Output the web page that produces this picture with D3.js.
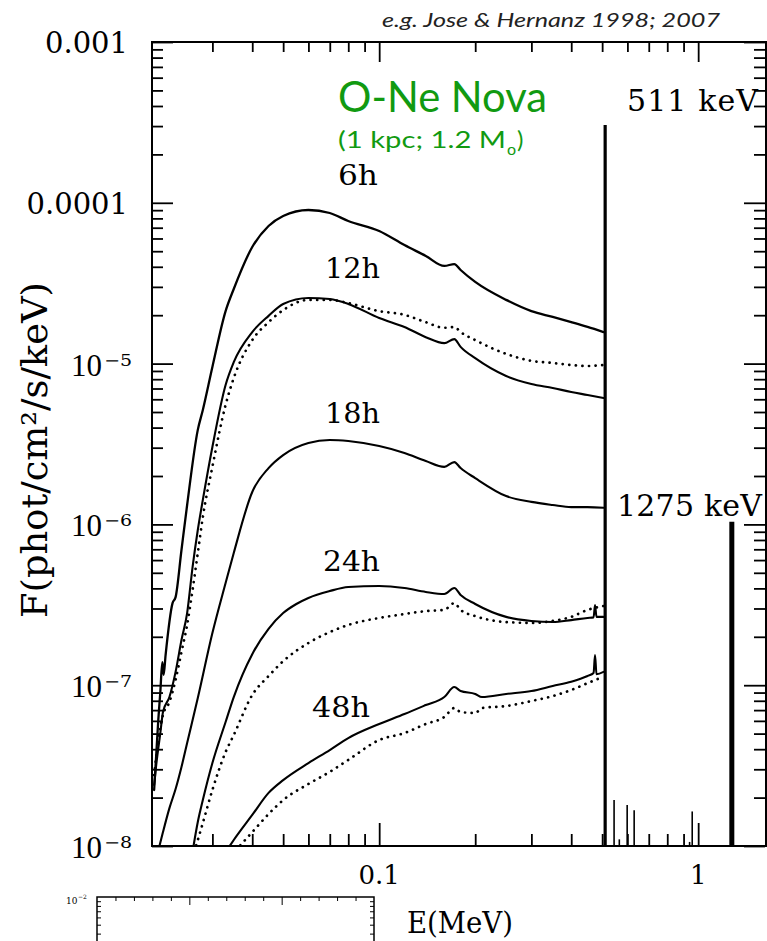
<!DOCTYPE html>
<html lang="en">
<head>
<meta charset="UTF-8">
<script src="https://d3js.org/d3.v7.min.js"></script>
<style>
  body { margin: 0; background: #fff; }
  svg { display: block; }
  .serif { font-family: "DejaVu Serif", "Liberation Serif", serif; fill: #000; }
  .times { font-family: "Liberation Serif", "DejaVu Serif", serif; fill: #000; }
  .green { font-family: Lato, "Open Sans", sans-serif; fill: #119a11; }
</style>
</head>
<body>
<svg id="chart" width="767" height="941"></svg>
<script>
// ---- data: [energy MeV, flux phot/cm2/s/keV] ----
const h6Solid = [[0.0197,2.23e-8],[0.0200,3.68e-8],[0.0203,6.07e-8],[0.0206,9.07e-8],[0.0209,1.39e-7],[0.0211,1.16e-7],
  [0.0214,1.54e-7],[0.0225,3.24e-7],[0.0230,3.53e-7],[0.0240,6.93e-7],[0.0250,1.32e-6],[0.0270,3.87e-6],[0.0280,5.15e-6],
  [0.030,9.53e-6],[0.033,2.12e-5],[0.035,2.91e-5],[0.040,5.31e-5],[0.045,7.17e-5],[0.050,8.28e-5],[0.060,9.02e-5],
  [0.070,8.64e-5],[0.080,7.71e-5],[0.100,6.68e-5],[0.120,5.46e-5],[0.140,4.67e-5],[0.160,4.05e-5],[0.172,4.16e-5],
  [0.180,3.82e-5],[0.200,3.22e-5],[0.250,2.49e-5],[0.300,2.12e-5],[0.350,1.95e-5],[0.400,1.81e-5],[0.450,1.69e-5],[0.505,1.57e-5]];
const h12Solid = [[0.0197,2.40e-8],[0.0200,3.19e-8],[0.0206,5.04e-8],[0.0210,6.81e-8],[0.0220,8.44e-8],[0.0230,1.21e-7],
  [0.0240,1.91e-7],[0.0250,2.81e-7],[0.0260,5.43e-7],[0.0270,9.23e-7],[0.0280,1.42e-6],[0.030,3.03e-6],[0.033,7.36e-6],
  [0.035,1.02e-5],[0.040,1.57e-5],[0.045,1.98e-5],[0.050,2.35e-5],[0.060,2.56e-5],[0.070,2.52e-5],[0.080,2.35e-5],
  [0.100,1.92e-5],[0.120,1.69e-5],[0.140,1.46e-5],[0.160,1.34e-5],[0.172,1.42e-5],[0.180,1.27e-5],[0.200,1.08e-5],
  [0.250,8.37e-6],[0.300,7.47e-6],[0.350,7.05e-6],[0.400,6.66e-6],[0.450,6.38e-6],[0.505,6.11e-6]];
const h12Dotted = [[0.0197,2.76e-8],[0.0200,3.58e-8],[0.0210,6.53e-8],[0.0220,7.86e-8],[0.0230,1.08e-7],[0.0240,1.61e-7],
  [0.0250,2.37e-7],[0.0260,3.91e-7],[0.0270,6.64e-7],[0.0280,1.11e-6],[0.030,2.28e-6],[0.033,5.53e-6],[0.035,8.13e-6],
  [0.040,1.40e-5],[0.045,1.81e-5],[0.050,2.15e-5],[0.060,2.49e-5],[0.070,2.49e-5],[0.080,2.38e-5],[0.100,2.12e-5],
  [0.120,2.01e-5],[0.140,1.81e-5],[0.160,1.67e-5],[0.172,1.69e-5],[0.180,1.57e-5],[0.200,1.40e-5],[0.250,1.15e-5],
  [0.300,1.04e-5],[0.350,1.01e-5],[0.400,9.80e-6],[0.450,9.66e-6],[0.505,9.80e-6]];
const h18Solid = [[0.0205,1.01e-8],[0.0210,1.22e-8],[0.0220,1.72e-8],[0.0230,2.26e-8],[0.0240,3.10e-8],[0.0250,4.37e-8],
  [0.0270,8.32e-8],[0.030,2.11e-7],[0.033,4.32e-7],[0.035,6.64e-7],[0.040,1.59e-6],[0.045,2.24e-6],[0.050,2.70e-6],
  [0.060,3.21e-6],[0.070,3.35e-6],[0.080,3.30e-6],[0.100,3.07e-6],[0.120,2.78e-6],[0.140,2.48e-6],[0.160,2.28e-6],
  [0.172,2.44e-6],[0.180,2.24e-6],[0.200,1.94e-6],[0.250,1.50e-6],[0.300,1.38e-6],[0.350,1.32e-6],[0.400,1.28e-6],
  [0.450,1.28e-6],[0.505,1.27e-6]];
const h24Solid = [[0.0262,1.01e-8],[0.0270,1.41e-8],[0.0280,1.93e-8],[0.030,3.28e-8],[0.033,5.90e-8],[0.035,8.44e-8],
  [0.040,1.56e-7],[0.045,2.24e-7],[0.050,2.81e-7],[0.055,3.20e-7],[0.060,3.49e-7],[0.070,3.85e-7],[0.080,4.08e-7],
  [0.100,4.14e-7],[0.120,4.02e-7],[0.140,3.80e-7],[0.160,3.69e-7],[0.172,4.02e-7],[0.180,3.64e-7],[0.200,3.20e-7],
  [0.250,2.66e-7],[0.300,2.51e-7],[0.350,2.47e-7],[0.400,2.54e-7],[0.450,2.62e-7],[0.470,2.64e-7],[0.475,3.15e-7],
  [0.480,2.66e-7],[0.505,2.66e-7]];
const h24Dotted = [[0.0267,1.01e-8],[0.0280,1.39e-8],[0.030,2.23e-8],[0.033,3.84e-8],[0.035,4.90e-8],[0.040,8.69e-8],
  [0.045,1.14e-7],[0.050,1.41e-7],[0.060,1.83e-7],[0.070,2.14e-7],[0.080,2.37e-7],[0.100,2.62e-7],[0.120,2.77e-7],
  [0.140,2.89e-7],[0.160,2.94e-7],[0.172,3.24e-7],[0.180,2.94e-7],[0.200,2.69e-7],[0.250,2.47e-7],[0.300,2.44e-7],
  [0.350,2.51e-7],[0.400,2.66e-7],[0.450,2.94e-7],[0.505,3.11e-7]];
const h48Solid = [[0.0341,1.01e-8],[0.035,1.09e-8],[0.040,1.56e-8],[0.045,2.14e-8],[0.050,2.57e-8],[0.060,3.28e-8],
  [0.070,3.95e-8],[0.080,4.69e-8],[0.100,5.74e-8],[0.120,6.62e-8],[0.140,7.53e-8],[0.160,8.44e-8],[0.172,9.74e-8],
  [0.180,9.20e-8],[0.200,8.82e-8],[0.210,8.44e-8],[0.250,8.82e-8],[0.300,9.20e-8],[0.350,9.89e-8],[0.400,1.05e-7],
  [0.450,1.14e-7],[0.470,1.19e-7],[0.475,1.54e-7],[0.480,1.17e-7],[0.505,1.21e-7]];
const h48Dotted = [[0.0367,1.01e-8],[0.040,1.22e-8],[0.045,1.58e-8],[0.050,1.93e-8],[0.060,2.43e-8],[0.070,2.89e-8],
  [0.080,3.43e-8],[0.100,4.56e-8],[0.120,5.04e-8],[0.140,5.74e-8],[0.160,6.34e-8],[0.172,7.21e-8],[0.180,6.81e-8],
  [0.200,6.72e-8],[0.210,7.21e-8],[0.250,7.42e-8],[0.300,7.97e-8],[0.350,8.56e-8],[0.400,9.34e-8],[0.450,1.03e-7],
  [0.505,1.13e-7]];

// gamma-ray lines: energy (MeV) and peak flux
const lineEnergy = [0.511, 0.545, 0.566, 0.599, 0.630, 0.940, 0.958, 1.275];
const linePeak   = [3.05e-4, 1.93e-8, 1.10e-8, 1.80e-8, 1.67e-8, 1.06e-8, 1.64e-8, 1.04e-6];

// axis ticks / labels
const yTickValues = [1e-3, 1e-4, 1e-5, 1e-6, 1e-7, 1e-8];
const yTickBase = ["0.001", "0.0001", "10", "10", "10", "10"];
const yTickExp = ["", "", "\u22125", "\u22126", "\u22127", "\u22128"];
const xTickValues = [0.1, 1];
const xTickText = ["0.1", "1"];
const curveLabels = ["6h", "12h", "18h", "24h", "48h"];

// ---- setup ----
const svg = d3.select("#chart");
const plot = { left: 152, right: 766, top: 42, bottom: 846 };
const x = d3.scaleLog().domain([0.0194, 1.62]).range([plot.left, 765]);
const y = d3.scaleLog().domain([1e-8, 1e-3]).range([plot.bottom, plot.top]);

svg.append("defs").append("clipPath").attr("id", "clip")
  .append("rect").attr("x", plot.left).attr("y", plot.top)
  .attr("width", plot.right - plot.left).attr("height", plot.bottom - plot.top);

// spectra
const line = d3.line().x(d => x(d[0])).y(d => y(d[1])).curve(d3.curveMonotoneX);
const series = [
  { data: h6Solid, dotted: false, w: 2.3 },
  { data: h12Solid, dotted: false, w: 2.1 },
  { data: h12Dotted, dotted: true },
  { data: h18Solid, dotted: false, w: 2.1 },
  { data: h24Solid, dotted: false, w: 2.1 },
  { data: h24Dotted, dotted: true },
  { data: h48Solid, dotted: false, w: 2.1 },
  { data: h48Dotted, dotted: true }
];
const curves = svg.append("g").attr("clip-path", "url(#clip)");
curves.selectAll("path.spec").data(series).enter().append("path")
  .attr("class", "spec")
  .attr("d", d => line(d.data))
  .attr("fill", "none")
  .attr("stroke", "#000")
  .attr("stroke-width", d => d.dotted ? 2.7 : d.w)
  .attr("stroke-linecap", "round")
  .attr("stroke-dasharray", d => d.dotted ? "0.1 6.5" : null);

// lines
const lines = lineEnergy.map((e, i) => ({ e: e, f: linePeak[i] }));
curves.selectAll("line.gl").data(lines).enter().append("line")
  .attr("class", "gl")
  .attr("x1", d => x(d.e)).attr("x2", d => x(d.e))
  .attr("y1", y(1e-8)).attr("y2", d => y(d.f))
  .attr("stroke", "#000")
  .attr("stroke-width", d => d.e > 1.2 ? 5 : (d.f > 1e-5 ? 3.2 : 1.6));

// ---- axes (ticks only, inward) ----
function drawTicks(axis, transform, values, len) {
  svg.append("g")
    .attr("transform", transform)
    .call(axis.tickValues(values).tickSize(-len).tickFormat(() => ""))
    .call(g => g.select(".domain").remove())
    .call(g => g.selectAll("line").attr("stroke", "#000").attr("stroke-width", 1.8));
}
const yMinor = [];
for (let k = -8; k < -3; k++) for (let m = 2; m <= 9; m++) yMinor.push(m * Math.pow(10, k));
const xMinor = [0.03, 0.04, 0.05, 0.06, 0.07, 0.08, 0.09, 0.2, 0.3, 0.4, 0.5, 0.6, 0.7, 0.8, 0.9];

drawTicks(d3.axisLeft(y), `translate(${plot.left},0)`, yTickValues, 21);
drawTicks(d3.axisLeft(y), `translate(${plot.left},0)`, yMinor, 11);
drawTicks(d3.axisRight(y), `translate(${plot.right - 1},0)`, yTickValues, 21);
drawTicks(d3.axisRight(y), `translate(${plot.right - 1},0)`, yMinor, 11);
drawTicks(d3.axisBottom(x), `translate(0,${plot.bottom})`, xTickValues, 23);
drawTicks(d3.axisBottom(x), `translate(0,${plot.bottom})`, xMinor, 12);
drawTicks(d3.axisTop(x), `translate(0,${plot.top})`, xTickValues, 20);
drawTicks(d3.axisTop(x), `translate(0,${plot.top})`, xMinor, 10);

// frame
svg.append("rect")
  .attr("x", plot.left).attr("y", plot.top)
  .attr("width", plot.right - plot.left).attr("height", plot.bottom - plot.top)
  .attr("fill", "none").attr("stroke", "#000").attr("stroke-width", 2);

// y tick labels
yTickValues.forEach((v, i) => {
  if (yTickExp[i] === "") {
    svg.append("text").attr("class", "serif")
      .attr("x", 128).attr("y", y(v) + 11)
      .attr("text-anchor", "end").attr("font-size", 29)
      .text(yTickBase[i]);
  } else {
    svg.append("text").attr("class", "times")
      .attr("x", 71).attr("y", y(v) + 12)
      .attr("font-size", 31)
      .text(yTickBase[i]);
    svg.append("text").attr("class", "serif")
      .attr("x", 104).attr("y", y(v) + 2)
      .attr("font-size", 16)
      .attr("textLength", 28).attr("lengthAdjust", "spacingAndGlyphs")
      .text(yTickExp[i]);
  }
});

// x tick labels
xTickValues.forEach((v, i) => {
  svg.append("text").attr("class", "serif")
    .attr("x", x(v)).attr("y", 884)
    .attr("text-anchor", "middle").attr("font-size", 26)
    .text(xTickText[i]);
});

// axis titles
svg.append("text").attr("class", "serif")
  .attr("x", 407).attr("y", 933).attr("font-size", 30)
  .attr("textLength", 106).attr("lengthAdjust", "spacingAndGlyphs")
  .text("E(MeV)");
svg.append("text").attr("class", "serif")
  .attr("transform", "translate(47,450) rotate(-90)")
  .attr("text-anchor", "middle").attr("font-size", 35)
  .attr("textLength", 336).attr("lengthAdjust", "spacingAndGlyphs")
  .text("F(phot/cm\u00b2/s/keV)");

// curve labels
const labelPos = [[338, 185, 40], [325, 278, 55], [325, 423, 55], [323, 571, 57], [312, 717, 58]];
curveLabels.forEach((t, i) => {
  svg.append("text").attr("class", "serif")
    .attr("x", labelPos[i][0]).attr("y", labelPos[i][1]).attr("font-size", 28)
    .attr("textLength", labelPos[i][2]).attr("lengthAdjust", "spacingAndGlyphs")
    .text(t);
});

// line labels
svg.append("text").attr("class", "serif")
  .attr("x", 627).attr("y", 111).attr("font-size", 30)
  .attr("textLength", 131).attr("lengthAdjust", "spacing")
  .text("511 keV");
svg.append("text").attr("class", "serif")
  .attr("x", 617).attr("y", 516).attr("font-size", 30)
  .attr("textLength", 145).attr("lengthAdjust", "spacing")
  .text("1275 keV");

// green annotations
svg.append("text").attr("class", "green")
  .attr("x", 338).attr("y", 112).attr("font-size", 42)
  .attr("textLength", 209).attr("lengthAdjust", "spacingAndGlyphs")
  .text("O-Ne Nova");
const sub = svg.append("text").attr("class", "green").attr("font-size", 24);
sub.append("tspan").attr("x", 338).attr("y", 148)
  .attr("textLength", 168).attr("lengthAdjust", "spacingAndGlyphs")
  .text("(1 kpc; 1.2 M");
sub.append("tspan").attr("x", 507).attr("y", 155).attr("font-size", 16).text("o");
sub.append("tspan").attr("x", 517).attr("y", 148).text(")");

svg.append("text")
  .attr("x", 382).attr("y", 27)
  .attr("font-family", "Lato, 'Open Sans', sans-serif")
  .attr("font-style", "italic").attr("font-size", 20).attr("fill", "#222")
  .attr("textLength", 338).attr("lengthAdjust", "spacingAndGlyphs")
  .text("e.g. Jose & Hernanz 1998; 2007");

// ---- cropped piece of the next figure at the bottom ----
const miniX = d3.scaleLinear().domain([0, 3]).range([97, 374]);
const miniY = d3.scaleLog().domain([1e-2, 1e-3]).range([897, 989]);
const miniXMinor = d3.range(0.2, 3, 0.2).filter(v => Math.abs(v - Math.round(v)) > 0.01);
const miniYMinor = [9e-3, 8e-3, 7e-3, 6e-3, 5e-3, 4e-3, 3e-3];
function miniTicks(axis, transform, values, len) {
  svg.append("g").attr("transform", transform)
    .call(axis.tickValues(values).tickSize(-len).tickFormat(() => ""))
    .call(g => g.select(".domain").remove())
    .call(g => g.selectAll("line").attr("stroke", "#000").attr("stroke-width", 1));
}
miniTicks(d3.axisTop(miniX), "translate(0,897)", miniXMinor, 4);
miniTicks(d3.axisTop(miniX), "translate(0,897)", [1, 2], 8);
miniTicks(d3.axisLeft(miniY), "translate(97,0)", miniYMinor, 4);
miniTicks(d3.axisRight(miniY), "translate(374,0)", miniYMinor, 4);
svg.append("path")
  .attr("d", d3.line()([[97, 941], [97, 897], [374, 897], [374, 941]]))
  .attr("fill", "none").attr("stroke", "#000").attr("stroke-width", 1.5);
svg.append("text").attr("class", "serif").attr("x", 66).attr("y", 904).attr("font-size", 9).text("10");
svg.append("text").attr("class", "serif").attr("x", 78).attr("y", 899).attr("font-size", 6).text("\u22122");
</script>
</body>
</html>
